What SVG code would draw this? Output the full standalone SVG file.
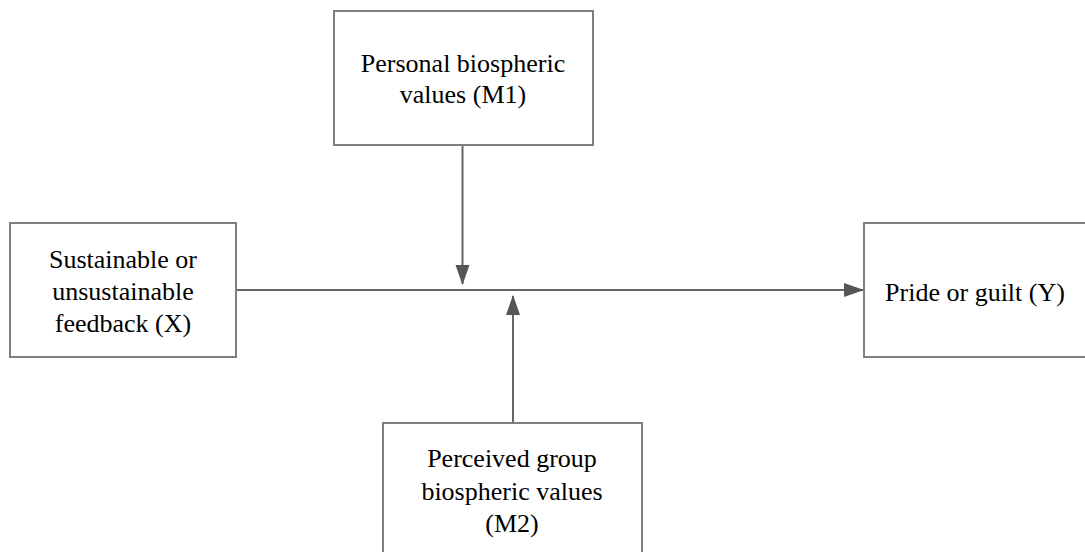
<svg xmlns="http://www.w3.org/2000/svg" width="1085" height="552" viewBox="0 0 1085 552">
<style>
.box{fill:#fff;stroke:#7f7f7f;stroke-width:2}
.t{font-family:'Liberation Serif',Tinos,'Times New Roman',Times,serif;font-size:26px;fill:#000;text-anchor:middle}
.c{stroke:#666;stroke-width:2;fill:none}
</style>
<defs>
<marker id="ah2" markerWidth="20" markerHeight="16" refX="19" refY="8" orient="auto" markerUnits="userSpaceOnUse" viewBox="0 0 20 16">
<path d="M0,1 L20,8 L0,15 z" fill="#555"/>
</marker>
</defs>
<rect width="1085" height="552" fill="#fff"/>
<g id="connectors">
<line class="c" x1="236" y1="290" x2="863" y2="290" marker-end="url(#ah2)"/>
<line class="c" x1="462.5" y1="145" x2="462.5" y2="284" marker-end="url(#ah2)"/>
<line class="c" x1="513" y1="423" x2="513" y2="296" marker-end="url(#ah2)"/>
</g>
<g id="node-m1">
<rect class="box" x="334" y="11" width="259" height="134"/>
<text class="t" x="463" y="72">Personal biospheric</text>
<text class="t" x="463" y="103">values (M1)</text>
</g>
<g id="node-x">
<rect class="box" x="10" y="223" width="226" height="134"/>
<text class="t" x="123" y="268">Sustainable or</text>
<text class="t" x="123" y="300">unsustainable</text>
<text class="t" x="123" y="332">feedback (X)</text>
</g>
<g id="node-y">
<rect class="box" x="864" y="223" width="230" height="134"/>
<text class="t" x="975" y="301">Pride or guilt (Y)</text>
</g>
<g id="node-m2">
<rect class="box" x="383" y="423" width="259" height="140"/>
<text class="t" x="512" y="467">Perceived group</text>
<text class="t" x="512" y="500">biospheric values</text>
<text class="t" x="512" y="532">(M2)</text>
</g>
</svg>
